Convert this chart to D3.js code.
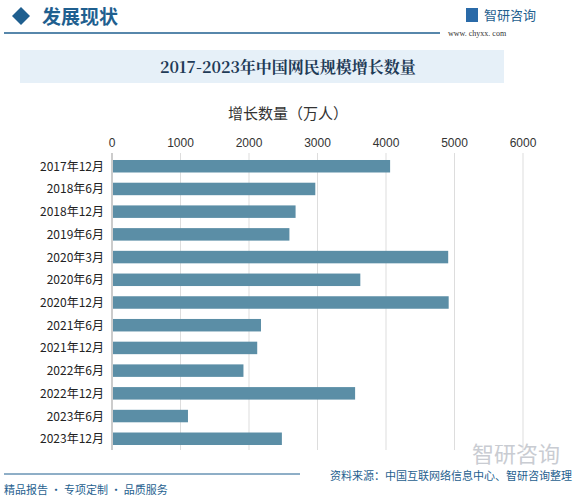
<!DOCTYPE html><html><head><meta charset="utf-8">
<script src="https://cdn.jsdelivr.net/npm/d3@7"></script>
<style>body{margin:0;background:#fff}svg{font-family:"Noto Sans CJK SC",sans-serif}</style></head><body>
<svg id="c" width="576" height="500"></svg>
<script>
const categories=["2017年12月","2018年6月","2018年12月","2019年6月","2020年3月","2020年6月","2020年12月","2021年6月","2021年12月","2022年6月","2022年12月","2023年6月","2023年12月"];
const values=[4060,2968,2680,2590,4908,3625,4915,2175,2120,1919,3549,1109,2480];
const ticks=[0,1000,2000,3000,4000,5000,6000];
const svg=d3.select("#c");
svg.append("path").attr("d","M12,16 L21,7 L30,16 L21,25Z").attr("fill","#1f5f8f");
svg.append("text").attr("x",42).attr("y",24).attr("font-size",19).attr("fill","#1f5f8f").attr("font-weight","bold").text("发展现状");
svg.append("line").attr("x1",4).attr("x2",440).attr("y1",33).attr("y2",33).attr("stroke","#1f5f8f").attr("stroke-width",1.5);
svg.append("rect").attr("x",466).attr("y",8).attr("width",12).attr("height",14).attr("fill","#2a6aa8");
svg.append("text").attr("x",484).attr("y",20).attr("font-size",13).attr("fill","#1f5f8f").text("智研咨询");
svg.append("text").attr("x",448).attr("y",36).attr("font-size",8).attr("fill","#333").attr("font-family","Liberation Serif").text("www. chyxx. com");
svg.append("rect").attr("x",20).attr("y",50).attr("width",484).attr("height",33).attr("fill","#e6f0f8");
svg.append("text").attr("x",288).attr("y",73).attr("text-anchor","middle").attr("font-size",16).attr("font-weight","bold").attr("fill","#1f3b57").attr("font-family","Noto Serif CJK SC, Noto Sans CJK SC").text("2017-2023年中国网民规模增长数量");
svg.append("text").attr("x",288).attr("y",119).attr("text-anchor","middle").attr("font-size",15).attr("fill","#333").text("增长数量（万人）");
const x=d3.scaleLinear().domain([0,6000]).range([112,523]);
const y=d3.scaleBand().domain(categories).range([155,450]).paddingInner(0.45).paddingOuter(0.22);
svg.append("g").selectAll("line").data(ticks.slice(1)).join("line").attr("x1",d=>x(d)).attr("x2",d=>x(d)).attr("y1",153).attr("y2",450).attr("stroke","#ddd");
svg.append("line").attr("x1",112).attr("x2",112).attr("y1",153).attr("y2",450).attr("stroke","#999");
svg.append("g").selectAll("text").data(ticks).join("text").attr("x",d=>x(d)).attr("y",147).attr("text-anchor","middle").attr("font-size",12).attr("fill","#333").attr("font-family","Liberation Sans").text(d=>d);
svg.append("g").selectAll("text").data(categories).join("text").attr("x",104).attr("y",d=>y(d)+y.bandwidth()/2+4.5).attr("text-anchor","end").attr("font-size",12).attr("fill","#222").text(d=>d);
svg.append("g").selectAll("rect").data(values).join("rect").attr("x",x(0)+1).attr("y",(d,i)=>y(categories[i])).attr("height",y.bandwidth()).attr("width",d=>x(d)-x(0)-1).attr("fill","#5b8ea6");
svg.append("line").attr("x1",4).attr("x2",300).attr("y1",474).attr("y2",474).attr("stroke","#1f5f8f").attr("stroke-width",1);
svg.append("text").attr("x",4).attr("y",494).attr("font-size",11).attr("fill","#1f5f8f").text("精品报告 · 专项定制 · 品质服务");
svg.append("text").attr("x",572).attr("y",480).attr("text-anchor","end").attr("font-size",11).attr("fill","#1f5f8f").text("资料来源：中国互联网络信息中心、智研咨询整理");
svg.append("text").attr("x",560).attr("y",462).attr("text-anchor","end").attr("font-size",22).attr("fill","#c9ccd2").text("智研咨询");
</script></body></html>
